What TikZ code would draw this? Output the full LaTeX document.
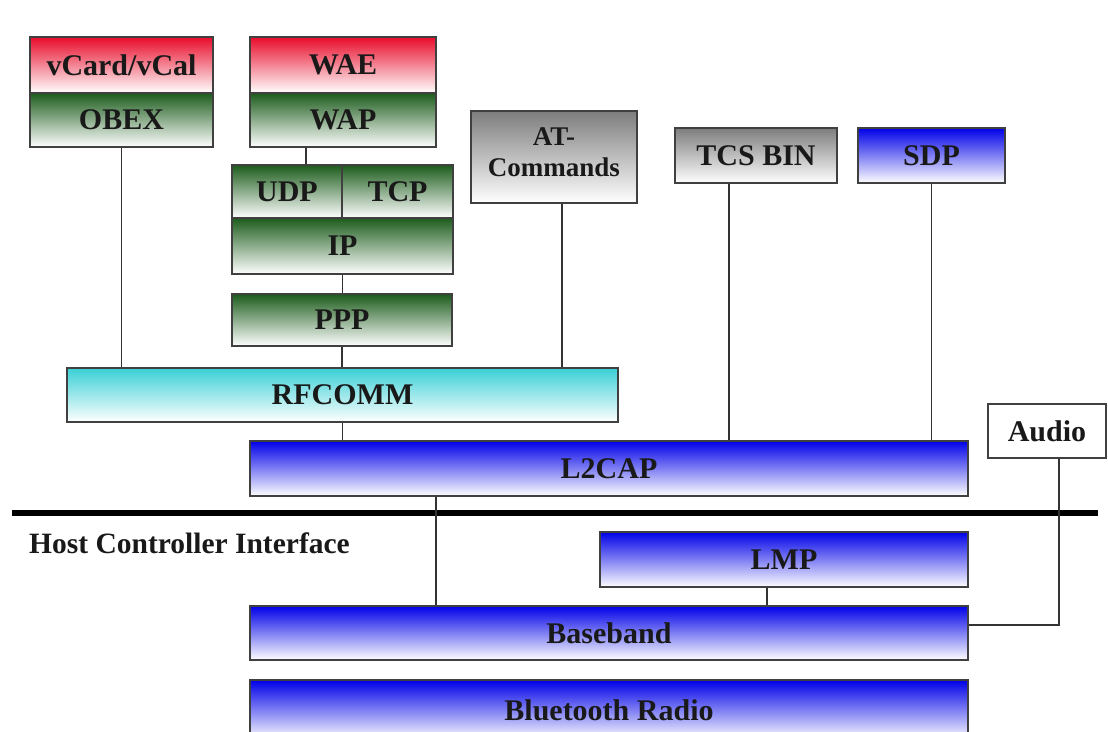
\documentclass[tikz,border=0pt]{standalone}
\usepackage{fontspec}
\setmainfont{Liberation Serif}
\definecolor{redtop}{RGB}{232,12,42}
\definecolor{greentop}{RGB}{28,92,28}
\definecolor{graytop}{RGB}{125,125,125}
\definecolor{bluetop}{RGB}{0,0,232}
\definecolor{cyantop}{RGB}{58,208,214}
\definecolor{txt}{RGB}{25,25,25}
\begin{document}
\begin{tikzpicture}[x=1pt,y=-1pt,
  box/.style={draw=black!75, line width=1.6pt, inner sep=0pt, text=txt,
    font=\fontsize{30}{32}\selectfont\bfseries, align=center},
  redbox/.style={box, top color=redtop, bottom color=white},
  greenbox/.style={box, top color=greentop, bottom color=white},
  graybox/.style={box, top color=graytop, bottom color=white},
  bluebox/.style={box, top color=bluetop, bottom color=white},
  cyanbox/.style={box, top color=cyantop, bottom color=white},
  whitebox/.style={box, fill=white},
  conn/.style={draw=black!80, line width=1.5pt},
  hciline/.style={draw=black, line width=6pt}]
\clip (0,0) rectangle (1108,731);
\fill[white] (0,0) rectangle (1108,731);

% upper stacks
\node[redbox, minimum width=183, minimum height=56] (vcard) at (121.5,65) {vCard/vCal};
\node[greenbox, minimum width=183, minimum height=54] (obex) at (121.5,120) {OBEX};
\node[redbox, minimum width=186, minimum height=56] (wae) at (343,65) {WAE};
\node[greenbox, minimum width=186, minimum height=54] (wap) at (343,120) {WAP};
\node[greenbox, minimum width=110, minimum height=53] (udp) at (287,191.5) {UDP};
\node[greenbox, minimum width=111, minimum height=53] (tcp) at (397.5,191.5) {TCP};
\node[greenbox, minimum width=221, minimum height=56] (ip) at (342.5,246) {IP};
\node[greenbox, minimum width=220, minimum height=52] (ppp) at (342,320) {PPP};
\node[graybox, minimum width=166, minimum height=92] (at) at (554,157) {};
\node[text=txt, font=\fontsize{27}{31}\selectfont\bfseries, align=center] (attext) at (554,152) {AT-\\Commands};
\node[graybox, minimum width=162, minimum height=55] (tcs) at (756,155.5) {TCS BIN};
\node[bluebox, minimum width=147, minimum height=55] (sdp) at (931.5,155.5) {SDP};

% middle
\node[cyanbox, minimum width=551, minimum height=54] (rfcomm) at (342.5,395) {RFCOMM};
\node[bluebox, minimum width=718, minimum height=55] (l2cap) at (609,468.5) {L2CAP};
\node[whitebox, minimum width=118, minimum height=54] (audio) at (1047,431) {Audio};

% HCI
\coordinate (hcil) at (12,513);
\coordinate (hcir) at (1098,513);
\draw[hciline] (hcil) -- (hcir);
\node[anchor=west, text=txt, font=\fontsize{29.5}{30}\selectfont\bfseries, inner sep=0pt] (hcitext) at (29,543) {Host Controller Interface};

% lower
\node[bluebox, minimum width=368, minimum height=55] (lmp) at (784,559.5) {LMP};
\node[bluebox, minimum width=718, minimum height=54] (baseband) at (609,633) {Baseband};
\node[bluebox, minimum width=718, minimum height=60] (radio) at (609,710) {Bluetooth Radio};

% connectors
\draw[conn] (obex.south) -- (obex.south |- rfcomm.north);
\draw[conn] ([xshift=-37pt]wap.south) -- ([xshift=-37pt]wap.south |- udp.north);
\draw[conn] (ip.south) -- (ip.south |- ppp.north);
\draw[conn] (ppp.south) -- (ppp.south |- rfcomm.north);
\draw[conn] ([xshift=8pt]at.south) -- ([xshift=8pt]at.south |- rfcomm.north);
\draw[conn] (rfcomm.south) -- (rfcomm.south |- l2cap.north);
\draw[conn] ([xshift=-27pt]tcs.south) -- ([xshift=-27pt]tcs.south |- l2cap.north);
\draw[conn] (sdp.south) -- (sdp.south |- l2cap.north);
\draw[conn] ([xshift=-173pt]l2cap.south) -- ([xshift=-173pt]l2cap.south |- baseband.north);
\draw[conn] ([xshift=-17pt]lmp.south) -- ([xshift=-17pt]lmp.south |- baseband.north);
\draw[conn] ([xshift=12pt]audio.south) |- ([yshift=8pt]baseband.east);
\end{tikzpicture}
\end{document}
